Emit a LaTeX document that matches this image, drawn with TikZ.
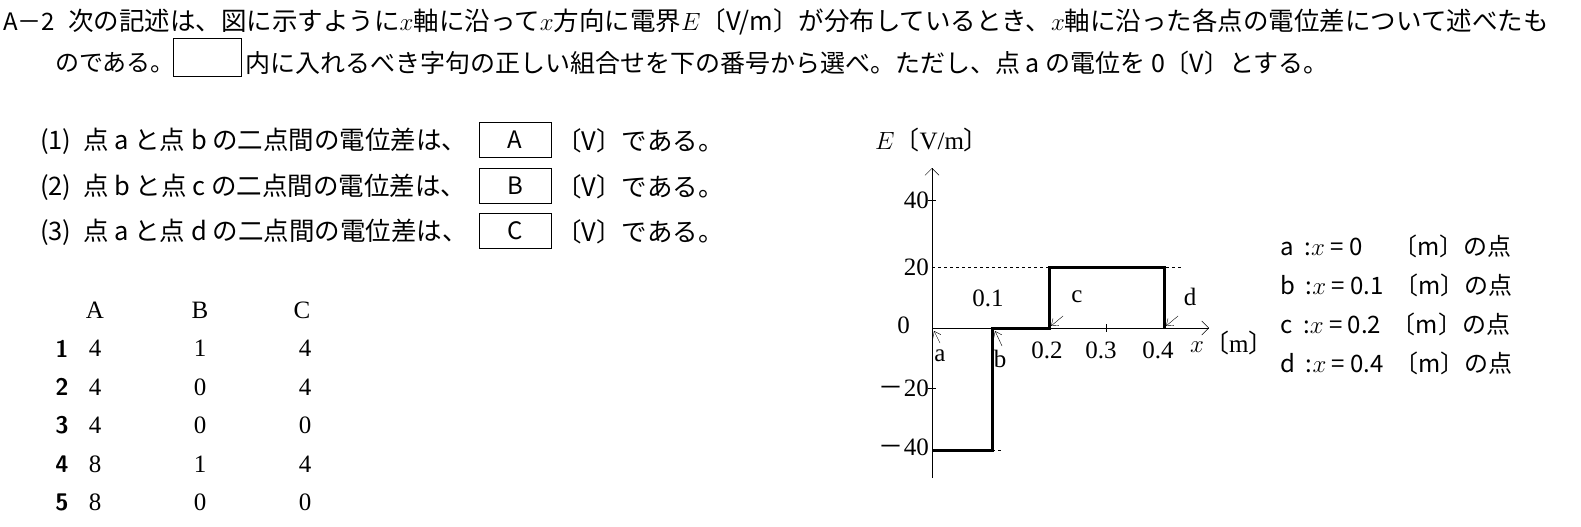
\documentclass[tikz,border=0pt]{standalone}
\usepackage{fontspec}
\setmainfont{Liberation Serif}
\newfontfamily\jp{Noto Sans CJK JP}
\newcommand{\lbk}{{\jp 〔}}
\newcommand{\rbk}{{\jp 〕}}
\newcommand{\mns}{{\jp －}}
\usetikzlibrary{arrows.meta}
\tikzset{
    every node/.style={inner sep=0pt, font=\jp\fontsize{24}{28}\selectfont},
    txt/.style={anchor=west},
    itm/.style={anchor=west, font=\jp\fontsize{25.5}{28}\selectfont},
    ansbox/.style={draw, minimum width=72pt, minimum height=35pt},
    curve/.style={line width=3pt},
    pt/.style={-{Straight Barb[length=6pt,width=9pt]}, thin},
    num/.style={font=\fontsize{25}{28}\selectfont}
}
\begin{document}
\begin{tikzpicture}[x=1pt, y=-1pt]
        \useasboundingbox (0,0) rectangle (1581,527);
        % question
        \node (q0) [txt] at (3,22) {A－2};
        \node (q1) [txt, font=\jp\fontsize{25.5}{28}\selectfont] at (68,22) {次の記述は、図に示すように$x$軸に沿って$x$方向に電界$E$〔V/m〕が分布しているとき、$x$軸に沿った各点の電位差について述べたも};
        \node (q2) [txt] at (55,63) {のである。};
        \node (qb) [ansbox, minimum width=68pt, minimum height=38pt] at (207,57) {};
        \node (q3) [txt, font=\jp\fontsize{25}{28}\selectfont] at (245,63) {内に入れるべき字句の正しい組合せを下の番号から選べ。ただし、点 a の電位を 0〔V〕とする。};
        % items
        \node (i1) [itm] at (40,141) {(1)\ \ 点 a と点 b の二点間の電位差は、};
        \node (b1) [ansbox] at (515,140) {A};
        \node (u1) [itm] at (556,141) {〔V〕である。};
        \node (i2) [itm] at (40,187) {(2)\ \ 点 b と点 c の二点間の電位差は、};
        \node (b2) [ansbox] at (515,186) {B};
        \node (u2) [itm] at (556,187) {〔V〕である。};
        \node (i3) [itm] at (40,232) {(3)\ \ 点 a と点 d の二点間の電位差は、};
        \node (b3) [ansbox] at (515,231) {C};
        \node (u3) [itm] at (556,232) {〔V〕である。};
        % table
        \node (hA) [num] at (95,310) {A};
        \node (hB) [num] at (200,310) {B};
        \node (hC) [num] at (302,310) {C};
        \foreach \n/\a/\b/\c [count=\i] in {1/4/1/4, 2/4/0/4, 3/4/0/0, 4/8/1/4, 5/8/0/0} {
            \node (r\i) [font=\sffamily\bfseries\fontsize{24}{26}\selectfont] at (62,310+38.5*\i) {\n};
            \node (a\i) [num] at (95,310+38.5*\i) {\a};
            \node (b\i) [num] at (200,310+38.5*\i) {\b};
            \node (c\i) [num] at (305,310+38.5*\i) {\c};
        }
        % graph
        \draw [-{Straight Barb[length=7pt,width=14pt]}] (932,478) -- (932,168);
        \draw [-{Straight Barb[length=7pt,width=14pt]}] (932,328) -- (1209,328);
        \draw (928,200) -- (936,200);
        \draw (928,388) -- (936,388);
        \draw (1106,324) -- (1106,332);
        \draw [dashed] (932,267) -- (1182,267);
        \draw [dashed] (992,450) -- (1002,450);
        \draw [curve] (932,450) -- (992,450) -- (992,328) -- (1049,328) -- (1049,267) -- (1164,267) -- (1164,328);
        \node (E) [num] at (932,140) {$E$\lbk V/m\rbk};
        \node (y40) [num, anchor=east] at (929,200) {40};
        \node (y20) [num, anchor=east] at (929,267) {20};
        \node (y0) [num, anchor=east] at (910,325) {0};
        \node (ym20) [num, anchor=east] at (929,388) {\mns 20};
        \node (ym40) [num, anchor=east] at (929,447) {\mns 40};
        \node (x1) [num] at (988,298) {0.1};
        \node (x2) [num] at (1047,350) {0.2};
        \node (x3) [num] at (1101,350) {0.3};
        \node (x4) [num] at (1158,350) {0.4};
        \node (xm) [num, anchor=west] at (1190,343) {$x$\lbk m\rbk};
        \node (la) [num] at (940,356) {a};
        \node (lb) [num] at (1000,359) {b};
        \node (lc) [num] at (1077,297) {c};
        \node (ld) [num] at (1190,297) {d};
        \draw [pt] (940,343) -- (934,331);
        \draw [pt] (1002,346) -- (995,331);
        \draw [pt] (1063,316) -- (1051,326);
        \draw [pt] (1178,316) -- (1166,326);
        % legend
        \foreach \p/\v [count=\i] in {a/0\phantom{.1}, b/0.1, c/0.2, d/0.4} {
            \node (k\i) [txt] at (1280,207+39*\i) {\p\ \ :$x$ = \v\ \ 〔m〕の点};
        }
\end{tikzpicture}
\end{document}
